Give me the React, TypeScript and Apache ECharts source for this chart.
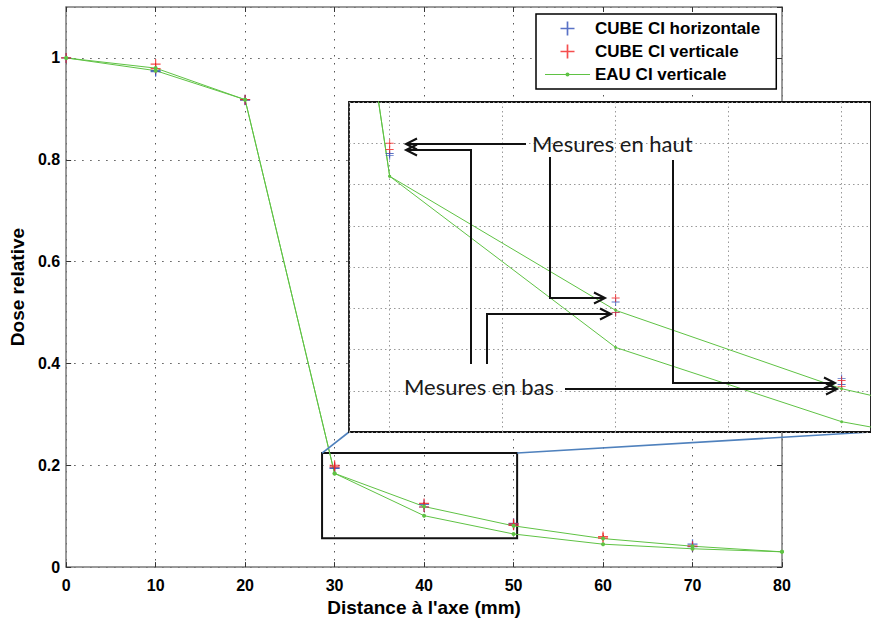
import React, { useEffect, useRef } from "react";
import * as echarts from "echarts";

// ---- data ----
const eauX = [0, 10, 20, 30, 40, 50, 60, 70, 80];
const eauHaut = [1.0, 0.98, 0.918, 0.184, 0.119, 0.081, 0.056, 0.041, 0.03];
const eauBas = [1.0, 0.975, 0.918, 0.184, 0.101, 0.065, 0.045, 0.036, 0.03];

const horizX = [0, 10, 10, 20, 20, 30, 30, 40, 40, 50, 50, 70, 70];
const horizY = [1.0, 0.975, 0.973, 0.918, 0.917, 0.195, 0.194, 0.123, 0.118, 0.086, 0.083, 0.045, 0.04];

const vertX = [0, 10, 10, 20, 30, 30, 40, 40, 50, 50, 60, 60, 70];
const vertY = [1.0, 0.988, 0.979, 0.918, 0.2, 0.197, 0.125, 0.118, 0.085, 0.082, 0.06, 0.057, 0.041];

const legendNames = ["CUBE CI horizontale", "CUBE CI verticale", "EAU CI verticale"];
const xTitle = "Distance à l'axe (mm)";
const yTitle = "Dose relative";

// zoom window (data coords of the rectangle in the main plot)
const zoomX = [28.6, 50.4];
const zoomY = [0.0565, 0.224];
// inset axis ranges
const insetX = [28.2, 51.3];
const insetY = [0.06, 0.22];

const labelHaut = "Mesures en haut";
const labelBas = "Mesures en bas";

const BLUE = "#2f4fb8";
const RED = "#f22222";
const GREEN = "#5fc244";
const PLUS = "path://M4.4,0H5.6V4.4H10V5.6H5.6V10H4.4V5.6H0V4.4H4.4Z";
const LINEDOT = "path://M0,6.5H45V7.5H0Z M20.5,7A2,2 0 1 1 24.5,7A2,2 0 1 1 20.5,7Z";

const pairs = (xs: number[], ys: number[]) => xs.map((x, i) => [x, ys[i]]);

const dotted = (color: string, dash: number[]) => ({
  show: true,
  lineStyle: { color, width: 1, type: dash },
});

export default function App() {
  const ref = useRef<HTMLDivElement>(null);
  useEffect(() => {
    if (!ref.current) return;
    const chart = echarts.init(ref.current, undefined, { renderer: "svg" });
    const tickFont = { fontFamily: "Liberation Sans", fontWeight: "bold" as const, fontSize: 16, color: "#000" };
    const axisGrey = "#7a7a7a";

    const mainSeries = (xi: number, yi: number, inset: boolean, prefix: string) => [
      {
        type: "scatter",
        name: prefix + legendNames[0],
        xAxisIndex: xi,
        yAxisIndex: yi,
        symbol: PLUS,
        symbolSize: inset ? 8 : 10,
        itemStyle: { color: BLUE },
        data: pairs(horizX, horizY),
        z: inset ? 12 : 2,
        silent: true,
      },
      {
        type: "scatter",
        name: prefix + legendNames[1],
        xAxisIndex: xi,
        yAxisIndex: yi,
        symbol: PLUS,
        symbolSize: inset ? 8 : 10,
        itemStyle: { color: RED },
        data: pairs(vertX, vertY),
        z: inset ? 12 : 2,
        silent: true,
      },
      {
        type: "line",
        name: prefix + legendNames[2],
        xAxisIndex: xi,
        yAxisIndex: yi,
        symbol: "circle",
        symbolSize: inset ? 3 : 4,
        showAllSymbol: true,
        lineStyle: { color: GREEN, width: 1 },
        itemStyle: { color: GREEN },
        data: pairs(eauX, eauHaut),
        z: inset ? 12 : 2,
        silent: true,
        markArea: inset
          ? undefined
          : {
              silent: true,
              itemStyle: { color: "rgba(0,0,0,0)", borderColor: "#111", borderWidth: 2 },
              data: [[{ coord: [zoomX[0], zoomY[1]] }, { coord: [zoomX[1], zoomY[0]] }]],
            },
      },
      {
        type: "line",
        name: prefix + legendNames[2],
        xAxisIndex: xi,
        yAxisIndex: yi,
        symbol: "circle",
        symbolSize: inset ? 3 : 4,
        showAllSymbol: true,
        lineStyle: { color: GREEN, width: 1 },
        itemStyle: { color: GREEN },
        data: pairs(eauX, eauBas),
        z: inset ? 12 : 2,
        silent: true,
      },
    ];

    chart.setOption({
      animation: false,
      backgroundColor: "#fff",
      grid: [
        { left: 66, top: 7, width: 716, height: 565, containLabel: false },
        {
          left: 349,
          top: 102,
          width: 523,
          height: 330,
          show: true,
          backgroundColor: "#fff",
          borderColor: "#111",
          borderWidth: 1.8,
          z: 10,
        },
      ],
      xAxis: [
        {
          type: "value",
          gridIndex: 0,
          min: 0,
          max: 80,
          interval: 10,
          position: "bottom",
          axisLine: { show: true, onZero: false, lineStyle: { color: axisGrey, width: 1.5 } },
          axisTick: { show: true, inside: true, length: 5, lineStyle: { color: "#333" } },
          axisLabel: { ...tickFont, margin: 10 },
          splitLine: dotted("#555", [1.5, 6.5]),
          name: xTitle,
          nameLocation: "middle",
          nameGap: 24,
          nameTextStyle: { fontFamily: "Liberation Sans", fontWeight: "bold", fontSize: 19, color: "#000" },
        },
        {
          type: "value",
          gridIndex: 0,
          min: 0,
          max: 80,
          interval: 10,
          position: "top",
          axisLine: { show: true, onZero: false, lineStyle: { color: axisGrey, width: 1.5 } },
          axisTick: { show: true, inside: true, length: 5, lineStyle: { color: "#333" } },
          axisLabel: { show: false },
          splitLine: { show: false },
        },
        {
          type: "value",
          gridIndex: 1,
          min: insetX[0],
          max: insetX[1],
          minInterval: 5,
          maxInterval: 5,
          axisLine: { show: false },
          axisTick: { show: false },
          axisLabel: { show: false },
          splitLine: dotted("#999", [1.5, 3]),
          z: 11,
        },
      ],
      yAxis: [
        {
          type: "value",
          gridIndex: 0,
          min: 0,
          max: 1.1,
          interval: 0.2,
          position: "left",
          axisLine: { show: true, onZero: false, lineStyle: { color: axisGrey, width: 1.5 } },
          axisTick: { show: true, inside: true, length: 5, lineStyle: { color: "#333" } },
          axisLabel: { ...tickFont, margin: 6, showMaxLabel: false },
          splitLine: dotted("#555", [1.5, 6.5]),
          name: yTitle,
          nameLocation: "middle",
          nameGap: 28,
          nameRotate: 90,
          nameTextStyle: { fontFamily: "Liberation Sans", fontWeight: "bold", fontSize: 19, color: "#000" },
        },
        {
          type: "value",
          gridIndex: 0,
          min: 0,
          max: 1.1,
          interval: 0.2,
          position: "right",
          axisLine: { show: true, onZero: false, lineStyle: { color: axisGrey, width: 1.5 } },
          axisTick: { show: true, inside: true, length: 5, lineStyle: { color: "#333" } },
          axisLabel: { show: false },
          splitLine: { show: false },
        },
        {
          type: "value",
          gridIndex: 1,
          min: insetY[0],
          max: insetY[1],
          interval: 0.02,
          axisLine: { show: false },
          axisTick: { show: false },
          axisLabel: { show: false },
          splitLine: dotted("#999", [1.5, 3]),
          z: 11,
        },
      ],
      legend: {
        data: [
          { name: legendNames[0] },
          { name: legendNames[1] },
          { name: legendNames[2], icon: LINEDOT },
        ],
        orient: "vertical",
        left: 536,
        top: 14,
        padding: [6, 16, 6, 9],
        itemGap: 6,
        itemWidth: 45,
        itemHeight: 14,
        backgroundColor: "#fff",
        borderColor: "#000",
        borderWidth: 1.5,
        borderRadius: 0,
        selectedMode: false,
        textStyle: { fontFamily: "Liberation Sans", fontWeight: "bold", fontSize: 17, color: "#000", lineHeight: 16 },
        z: 20,
      },
      series: [...mainSeries(0, 0, false, ""), ...mainSeries(2, 2, true, "inset ")],
    });

    // annotations: connector lines and arrows
    const a = chart.convertToPixel({ xAxisIndex: 0, yAxisIndex: 0 }, [zoomX[0], zoomY[1]]) as number[];
    const b = chart.convertToPixel({ xAxisIndex: 0, yAxisIndex: 0 }, [zoomX[1], zoomY[1]]) as number[];
    const c = chart.convertToPixel({ xAxisIndex: 2, yAxisIndex: 2 }, [insetX[0], insetY[0]]) as number[];
    const d = chart.convertToPixel({ xAxisIndex: 2, yAxisIndex: 2 }, [insetX[1], insetY[0]]) as number[];

    const arrows: number[][][] = [
      [[526, 144], [406, 144]],
      [[471, 364], [471, 150], [406, 150]],
      [[550, 157], [550, 298], [605, 298]],
      [[487, 364], [487, 314], [611, 314]],
      [[673, 160], [673, 383], [835, 383]],
      [[565, 389], [837, 389]],
    ];
    const arrowEls: any[] = [];
    arrows.forEach((pts) => {
      arrowEls.push({
        type: "polyline",
        shape: { points: pts },
        style: { stroke: "#111", lineWidth: 2, fill: "none" },
        z: 30,
        silent: true,
      });
      const [p, q] = [pts[pts.length - 2], pts[pts.length - 1]];
      const dx = q[0] - p[0];
      const dy = q[1] - p[1];
      const len = Math.hypot(dx, dy);
      const ux = dx / len;
      const uy = dy / len;
      const L = 11;
      const W = 5.5;
      arrowEls.push({
        type: "polyline",
        shape: {
          points: [
            [q[0] - ux * L - uy * W, q[1] - uy * L + ux * W],
            q,
            [q[0] - ux * L + uy * W, q[1] - uy * L - ux * W],
          ],
        },
        style: { stroke: "#111", lineWidth: 2, fill: "none" },
        z: 30,
        silent: true,
      });
    });

    chart.setOption({
      graphic: [
        {
          type: "line",
          shape: { x1: a[0], y1: a[1], x2: c[0], y2: c[1] },
          style: { stroke: "#4f81bd", lineWidth: 1.6 },
          z: 5,
          silent: true,
        },
        {
          type: "line",
          shape: { x1: b[0], y1: b[1], x2: d[0], y2: d[1] },
          style: { stroke: "#4f81bd", lineWidth: 1.6 },
          z: 5,
          silent: true,
        },
        ...arrowEls,
        {
          type: "text",
          x: 532,
          y: 143,
          style: {
            text: labelHaut,
            fontFamily: "Lato",
            fontSize: 22,
            fill: "#1a1a1a",
            verticalAlign: "middle",
            align: "left",
          },
          z: 30,
          silent: true,
        },
        {
          type: "text",
          x: 404,
          y: 386,
          style: {
            text: labelBas,
            fontFamily: "Lato",
            fontSize: 22,
            fill: "#1a1a1a",
            verticalAlign: "middle",
            align: "left",
          },
          z: 30,
          silent: true,
        },
      ],
    });

    return () => chart.dispose();
  }, []);
  return (
    <div
      ref={ref}
      style={{ position: "fixed", left: 0, top: 0, width: 871, height: 622, background: "#fff" }}
    />
  );
}
